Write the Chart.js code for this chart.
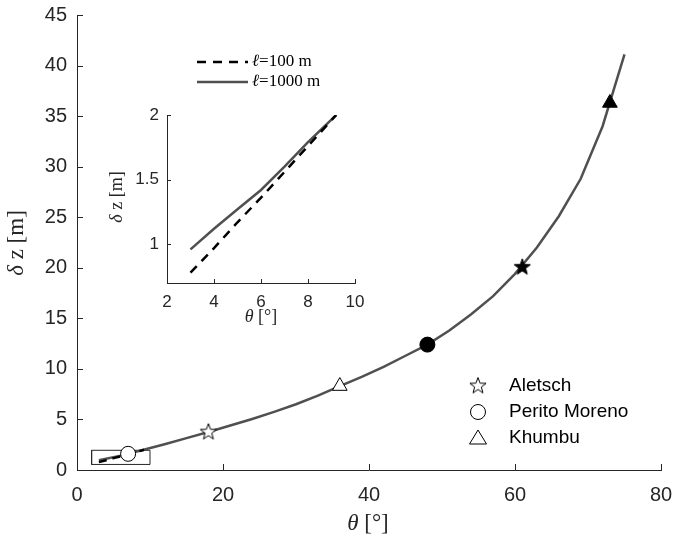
<!DOCTYPE html>
<html>
<head>
<meta charset="utf-8">
<script src="https://cdn.jsdelivr.net/npm/chart.js@4.4.0/dist/chart.umd.min.js"></script>
<style>
    html, body { margin: 0; padding: 0; background: #fff; }
    #wrap { position: relative; width: 673px; height: 540px; }
    #mainChart { position: absolute; left: 0; top: 0; }
    #insetChart { position: absolute; left: 90px; top: 40px; }
</style>
</head>
<body>
<div id="wrap">
    <canvas id="mainChart" width="673" height="540"></canvas>
    <canvas id="insetChart" width="290" height="300"></canvas>
</div>
<script>
// Slope angle vs. elevation difference
const thetaCurve = [3, 6, 9, 12, 15, 18, 21, 24, 27, 30, 33, 36, 39, 42, 45, 48, 51, 54, 57, 60, 63, 66, 69, 72, 75];
const dzCurve = [0.96, 1.42, 1.97, 2.55, 3.15, 3.76, 4.4, 5.05, 5.75, 6.5, 7.35, 8.3, 9.2, 10.2, 11.3, 12.4, 13.8, 15.4, 17.2, 19.4, 22.0, 25.1, 28.8, 34.0, 41.1];

// zoomed-in part (inset)
const thetaZoom = [3, 4, 5, 6, 7, 8, 9.2];
const dz1000 = [0.96, 1.12, 1.27, 1.42, 1.6, 1.79, 2.0];
const dz100 = [0.78, 0.97, 1.17, 1.36, 1.56, 1.76, 2.0];

// box marking the inset region
const boxTheta = [2, 10, 10, 2, 2];
const boxDz = [0.55, 0.55, 1.95, 1.95, 0.55];

// glaciers: open markers and filled markers
const glaciers = ['Aletsch', 'Perito Moreno', 'Khumbu'];
const glacierThetaOpen = [18, 7, 36];
const glacierDzOpen = [3.8, 1.6, 8.3];
const glacierThetaFilled = [61, 48, 73];
const glacierDzFilled = [20.1, 12.4, 36.3];

// tick values
const mainXTicks = [0, 20, 40, 60, 80];
const mainYTicks = [0, 5, 10, 15, 20, 25, 30, 35, 40, 45];
const insetXTicks = [2, 4, 6, 8, 10];
const insetYTicks = [1, 1.5, 2];

const AXIS = '#262626';
const CURVE = '#505050';
const SANS = '"Liberation Sans", Arial, Helvetica, sans-serif';
const SERIF = '"Liberation Serif", "DejaVu Serif", "Times New Roman", serif';

function pts(xs, ys) {
    return xs.map((x, i) => ({ x: x, y: ys[i] }));
}

// five pointed star marker (Chart.js 'star' is an asterisk)
function makeStar(filled) {
    const c = document.createElement('canvas');
    c.width = 20; c.height = 20;
    const g = c.getContext('2d');
    g.beginPath();
    for (let i = 0; i < 10; i++) {
        const r = i % 2 === 0 ? 8.5 : 3.5;
        const a = -Math.PI / 2 + i * Math.PI / 5;
        const px = 10 + r * Math.cos(a), py = 10.5 + r * Math.sin(a);
        if (i === 0) g.moveTo(px, py); else g.lineTo(px, py);
    }
    g.closePath();
    g.fillStyle = filled ? '#000' : '#fff';
    g.fill();
    g.lineWidth = 1;
    g.strokeStyle = '#000';
    g.stroke();
    return c;
}
const starOpen = makeStar(false);
const starFilled = makeStar(true);

// draws text made of parts with different fonts, centred on (cx, cy)
function drawMixed(ctx, parts, cx, cy, rotate) {
    ctx.save();
    ctx.translate(cx, cy);
    if (rotate) ctx.rotate(-Math.PI / 2);
    let total = 0;
    parts.forEach(p => { ctx.font = p.font; total += ctx.measureText(p.text).width; });
    let x = -total / 2;
    ctx.fillStyle = AXIS;
    ctx.textBaseline = 'middle';
    ctx.textAlign = 'left';
    parts.forEach(p => {
        ctx.font = p.font;
        ctx.fillText(p.text, x, 0);
        x += ctx.measureText(p.text).width;
    });
    ctx.restore();
}

// MATLAB style inward tick marks
function drawInwardTicks(chart, len) {
    const ctx = chart.ctx;
    const xs = chart.scales.x, ys = chart.scales.y;
    const area = chart.chartArea;
    ctx.save();
    ctx.strokeStyle = AXIS;
    ctx.lineWidth = 1;
    ctx.beginPath();
    xs.ticks.forEach(t => {
        const px = Math.round(xs.getPixelForValue(t.value)) + 0.5;
        ctx.moveTo(px, area.bottom);
        ctx.lineTo(px, area.bottom - len);
    });
    ys.ticks.forEach(t => {
        const py = Math.round(ys.getPixelForValue(t.value)) + 0.5;
        ctx.moveTo(area.left, py);
        ctx.lineTo(area.left + len, py);
    });
    ctx.stroke();
    ctx.restore();
}

const mainDecor = {
    id: 'mainDecor',
    afterDraw(chart) {
        const ctx = chart.ctx;
        drawInwardTicks(chart, 6);
        drawMixed(ctx, [
            { text: 'θ', font: 'italic 23px ' + SERIF },
            { text: ' [°]', font: '23px ' + SERIF }
        ], 368, 524, false);
        drawMixed(ctx, [
            { text: 'δ', font: 'italic 23px ' + SERIF },
            { text: ' z [m]', font: '23px ' + SERIF }
        ], 17, 243, true);

        // legend, lower right
        const rows = [386, 412, 438];
        const mx = 478;
        ctx.save();
        ctx.strokeStyle = '#000';
        ctx.fillStyle = '#fff';
        ctx.lineWidth = 1;
        ctx.drawImage(starOpen, mx - 10, rows[0] - 10.5);
        ctx.beginPath();
        ctx.arc(mx, rows[1], 7.5, 0, Math.PI * 2);
        ctx.fill(); ctx.stroke();
        ctx.beginPath();
        ctx.moveTo(mx, rows[2] - 8);
        ctx.lineTo(mx + 8.5, rows[2] + 6);
        ctx.lineTo(mx - 8.5, rows[2] + 6);
        ctx.closePath();
        ctx.fill(); ctx.stroke();
        ctx.fillStyle = '#000';
        ctx.font = '19px ' + SANS;
        ctx.textBaseline = 'middle';
        glaciers.forEach((name, i) => ctx.fillText(name, 509, rows[i]));
        ctx.restore();
    }
};

const insetDecor = {
    id: 'insetDecor',
    afterDraw(chart) {
        const ctx = chart.ctx;
        drawInwardTicks(chart, 4);
        drawMixed(ctx, [
            { text: 'θ', font: 'italic 18px ' + SERIF },
            { text: ' [°]', font: '18px ' + SERIF }
        ], 171, 277, false);
        drawMixed(ctx, [
            { text: 'δ', font: 'italic 18px ' + SERIF },
            { text: ' z [m]', font: '18px ' + SERIF }
        ], 27, 157, true);

        // legend above the inset
        ctx.save();
        ctx.lineWidth = 2.5;
        ctx.strokeStyle = '#000';
        ctx.setLineDash([9, 7]);
        ctx.beginPath();
        ctx.moveTo(107, 22); ctx.lineTo(158, 22);
        ctx.stroke();
        ctx.setLineDash([]);
        ctx.strokeStyle = CURVE;
        ctx.beginPath();
        ctx.moveTo(107, 42); ctx.lineTo(158, 42);
        ctx.stroke();
        ctx.fillStyle = '#000';
        ctx.textBaseline = 'middle';
        ctx.font = 'italic 17px ' + SERIF;
        const lw = ctx.measureText('ℓ').width;
        ctx.fillText('ℓ', 162, 22);
        ctx.fillText('ℓ', 162, 42);
        ctx.font = '17px ' + SERIF;
        ctx.fillText('=100 m', 162 + lw, 22);
        ctx.fillText('=1000 m', 162 + lw, 42);
        ctx.restore();
    }
};

function axisOptions(min, max, tickVals, fontSize, pad, fit) {
    return {
        type: 'linear',
        min: min,
        max: max,
        afterBuildTicks: s => { s.ticks = tickVals.map(v => ({ value: v })); },
        afterFit: fit,
        grid: { drawOnChartArea: false, drawTicks: false },
        border: { display: true, color: AXIS, width: 1 },
        ticks: {
            color: AXIS,
            padding: pad,
            font: { family: SANS, size: fontSize },
            maxRotation: 0,
            autoSkip: false,
            callback: v => String(v)
        }
    };
}

// keep label overhang from shrinking the plot area
function fitX(h) {
    return s => { s.height = h; s.paddingLeft = 0; s.paddingRight = 0; };
}
function fitY(w) {
    return s => { s.width = w; s.paddingTop = 0; s.paddingBottom = 0; };
}

// Main chart
new Chart(document.getElementById('mainChart'), {
    type: 'scatter',
    data: {
        datasets: [
            {
                label: 'open markers',
                data: pts(glacierThetaOpen, glacierDzOpen),
                pointStyle: [starOpen, 'circle', 'triangle'],
                pointRadius: [10, 7.5, 8.5],
                backgroundColor: '#fff',
                borderColor: '#000',
                borderWidth: 1,
                showLine: false,
                order: 0
            },
            {
                label: 'filled markers',
                data: pts(glacierThetaFilled, glacierDzFilled),
                pointStyle: [starFilled, 'circle', 'triangle'],
                pointRadius: [10, 7.5, 8.5],
                backgroundColor: '#000',
                borderColor: '#000',
                borderWidth: 1,
                showLine: false,
                order: 0
            },
            {
                label: 'l=100 m',
                data: pts(thetaZoom, dz100),
                showLine: true,
                borderColor: '#000',
                borderWidth: 2.5,
                borderDash: [8, 6],
                pointRadius: 0,
                order: 1
            },
            {
                label: 'l=1000 m',
                data: pts(thetaCurve, dzCurve),
                showLine: true,
                borderColor: CURVE,
                borderWidth: 2.5,
                pointRadius: 0,
                order: 2
            },
            {
                label: 'box',
                data: pts(boxTheta, boxDz),
                showLine: true,
                borderColor: AXIS,
                borderWidth: 1,
                pointRadius: 0,
                order: 3
            }
        ]
    },
    options: {
        responsive: false,
        animation: false,
        layout: { padding: { left: 0, top: 15, right: 12, bottom: 0 } },
        scales: {
            x: axisOptions(0, 80, mainXTicks, 20, 13, fitX(70)),
            y: axisOptions(0, 45, mainYTicks, 20, 10, fitY(77))
        },
        plugins: {
            legend: { display: false },
            tooltip: { enabled: false }
        }
    },
    plugins: [mainDecor]
});

// Inset chart
new Chart(document.getElementById('insetChart'), {
    type: 'scatter',
    data: {
        datasets: [
            {
                label: 'l=100 m',
                data: pts(thetaZoom, dz100),
                showLine: true,
                borderColor: '#000',
                borderWidth: 2.5,
                borderDash: [9, 7],
                pointRadius: 0
            },
            {
                label: 'l=1000 m',
                data: pts(thetaZoom, dz1000),
                showLine: true,
                borderColor: CURVE,
                borderWidth: 2.5,
                pointRadius: 0
            }
        ]
    },
    options: {
        responsive: false,
        animation: false,
        layout: { padding: { left: 0, top: 75, right: 25, bottom: 0 } },
        scales: {
            x: axisOptions(2, 10, insetXTicks, 17, 9, fitX(57)),
            y: axisOptions(0.7, 2, insetYTicks, 17, 8, fitY(77))
        },
        plugins: {
            legend: { display: false },
            tooltip: { enabled: false }
        }
    },
    plugins: [insetDecor]
});
</script>
</body>
</html>
